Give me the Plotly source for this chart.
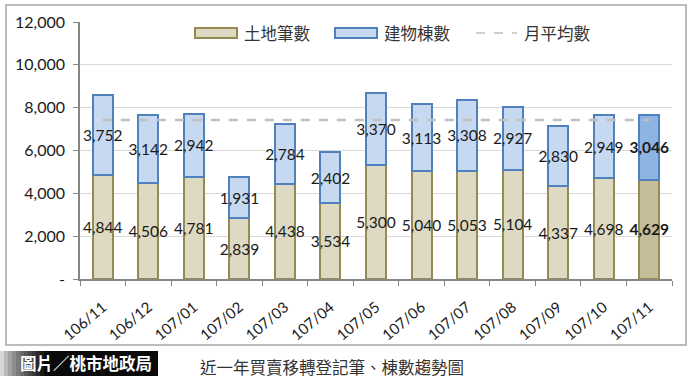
import plotly.graph_objects as go

months = ["106/11", "106/12", "107/01", "107/02", "107/03", "107/04", "107/05",
          "107/06", "107/07", "107/08", "107/09", "107/10", "107/11"]
land = [4844, 4506, 4781, 2839, 4438, 3534, 5300, 5040, 5053, 5104, 4337, 4698, 4629]
building = [3752, 3142, 2942, 1931, 2784, 2402, 3370, 3113, 3308, 2927, 2830, 2949, 3046]
monthly_avg = 7420
y_ticks = [0, 2000, 4000, 6000, 8000, 10000, 12000]
y_ticktext = ["-", "2,000", "4,000", "6,000", "8,000", "10,000", "12,000"]

W, H = 696, 391
L, R, T, B = 80, 672, 22, 279  # plot area in pixels


def px(x):
    return (x - L) / (R - L)


def py(y):
    return (B - y) / (B - T)


n = len(months)
land_fill = ["#DDD9C3"] * (n - 1) + ["#C4BD97"]
bld_fill = ["#C6D9F1"] * (n - 1) + ["#8EB4E3"]


def fmt(vals):
    out = [f"{v:,}" for v in vals]
    out[-1] = f"<b>{out[-1]}</b>"
    return out


NUMFONT = "Lato, 'Open Sans', sans-serif"
CJK = "'Noto Sans CJK TC', 'Noto Sans CJK SC', sans-serif"

fig = go.Figure()
fig.add_trace(go.Bar(
    x=months, y=land, name="土地筆數",
    marker=dict(color=land_fill, line=dict(color="#948A54", width=2)),
    text=fmt(land), textposition="inside", insidetextanchor="middle", textangle=0,
    constraintext="none", textfont=dict(family=NUMFONT, size=15.5, color="#1a1a1a"),
    width=0.44, cliponaxis=False,
))
fig.add_trace(go.Bar(
    x=months, y=building, name="建物棟數",
    marker=dict(color=bld_fill, line=dict(color="#4F81BD", width=2)),
    text=fmt(building), textposition="inside", insidetextanchor="middle", textangle=0,
    constraintext="none", textfont=dict(family=NUMFONT, size=15.5, color="#1a1a1a"),
    width=0.44, cliponaxis=False,
))
fig.add_trace(go.Scatter(
    x=months, y=[monthly_avg] * n, mode="lines", name="月平均數",
    line=dict(color="#C0C0C0", width=2.5, dash="dash"),
))

shapes = []
# outer border
shapes.append(dict(type="rect", xref="paper", yref="paper",
                   x0=px(6), x1=px(686), y0=py(345), y1=py(5),
                   line=dict(color="#A6A6A6", width=1.5), fillcolor="rgba(0,0,0,0)", layer="below"))
# legend symbols
shapes.append(dict(type="rect", xref="paper", yref="paper",
                   x0=px(195), x1=px(237), y0=py(38), y1=py(28),
                   line=dict(color="#948A54", width=2), fillcolor="#DDD9C3"))
shapes.append(dict(type="rect", xref="paper", yref="paper",
                   x0=px(335), x1=px(377), y0=py(38), y1=py(28),
                   line=dict(color="#4F81BD", width=2), fillcolor="#C6D9F1"))
shapes.append(dict(type="line", xref="paper", yref="paper",
                   x0=px(476), x1=px(517), y0=py(33), y1=py(33),
                   line=dict(color="#C0C0C0", width=1.5, dash="dash")))
# caption black box with gradient
shapes.append(dict(type="rect", xref="paper", yref="paper",
                   x0=px(0), x1=px(158), y0=py(376), y1=py(351),
                   line=dict(width=0), fillcolor="#0a0a0a"))
steps = 12
for i in range(steps):
    g = int(215 - (215 - 10) * (i / (steps - 1)) ** 0.8)
    shapes.append(dict(type="rect", xref="paper", yref="paper",
                       x0=px(0 + i * 4), x1=px(0 + (i + 1) * 4), y0=py(376), y1=py(351),
                       line=dict(width=0), fillcolor=f"rgb({g},{g},{g})"))

annotations = [
    dict(text="土地筆數", xref="paper", yref="paper", x=px(242), y=py(33),
         xanchor="left", yanchor="middle", showarrow=False,
         font=dict(family=CJK, size=16.5, color="#333333")),
    dict(text="建物棟數", xref="paper", yref="paper", x=px(382), y=py(33),
         xanchor="left", yanchor="middle", showarrow=False,
         font=dict(family=CJK, size=16.5, color="#333333")),
    dict(text="月平均數", xref="paper", yref="paper", x=px(522), y=py(33),
         xanchor="left", yanchor="middle", showarrow=False,
         font=dict(family=CJK, size=16.5, color="#333333")),
    dict(text="<b>圖片／桃市地政局</b>", xref="paper", yref="paper", x=px(86), y=py(363),
         xanchor="center", yanchor="middle", showarrow=False,
         font=dict(family=CJK, size=16.5, color="#ffffff")),
    dict(text="近一年買賣移轉登記筆、棟數趨勢圖", xref="paper", yref="paper", x=px(198), y=py(367),
         xanchor="left", yanchor="middle", showarrow=False,
         font=dict(family=CJK, size=16.5, color="#333333")),
]

fig.update_layout(
    width=W, height=H,
    margin=dict(l=L, r=W - R, t=T, b=H - B, pad=0, autoexpand=False),
    paper_bgcolor="white", plot_bgcolor="white",
    barmode="stack", bargap=0.56, showlegend=False,
    shapes=shapes, annotations=annotations,
    xaxis=dict(
        type="category", tickangle=-40, tickson="boundaries",
        ticks="outside", ticklen=5, tickcolor="#868686",
        showline=True, linecolor="#868686", linewidth=1.5,
        tickfont=dict(family=NUMFONT, size=15, color="#1a1a1a"),
        ticklabelstandoff=12,
        range=[-0.5, n - 0.5], showgrid=False, automargin=False,
    ),
    yaxis=dict(
        range=[0, 12000], tickvals=y_ticks, ticktext=y_ticktext,
        ticks="outside", ticklen=5, tickcolor="#868686",
        showline=True, linecolor="#868686", linewidth=1.5,
        showgrid=True, gridcolor="#D9D9D9", gridwidth=1,
        tickfont=dict(family=NUMFONT, size=16, color="#1a1a1a"),
        ticklabelstandoff=5, zeroline=False, automargin=False,
    ),
)

fig.write_html("out.html", config={"displayModeBar": False},
               post_script="document.body.style.margin='0';document.body.style.padding='0';")
